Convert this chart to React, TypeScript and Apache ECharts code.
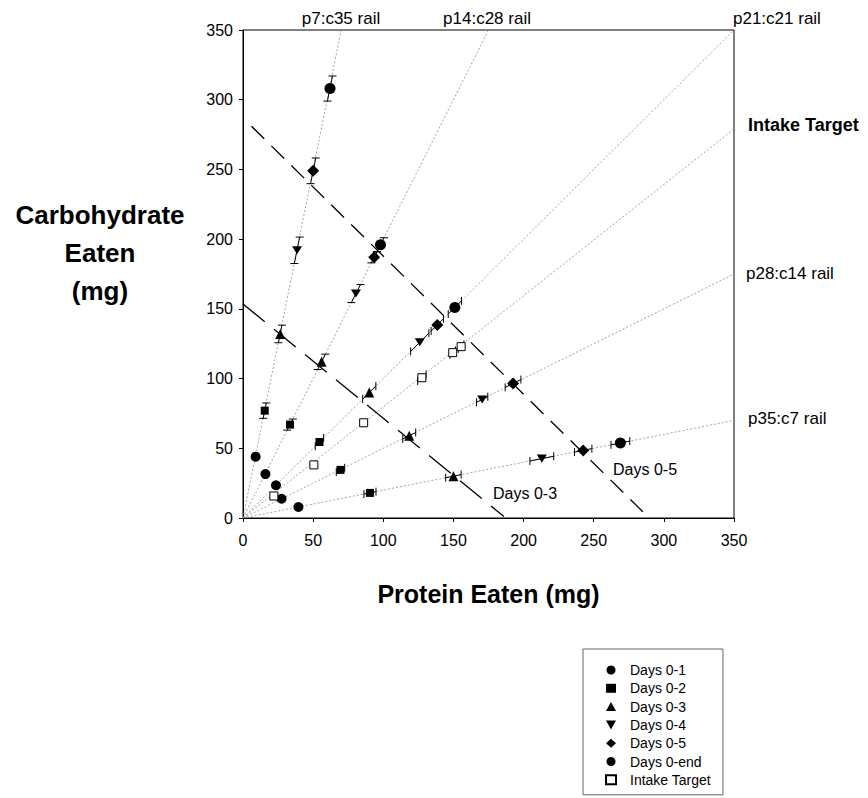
import React, { useEffect, useRef } from "react";
import * as echarts from "echarts";

// Nutrient rails: protein:carbohydrate ratio lines ending at the plot edge
const railNames = ["p7:c35 rail", "p14:c28 rail", "p21:c21 rail", "Intake Target", "p28:c14 rail", "p35:c7 rail"];
const railEnds: number[][] = [[70, 350], [175, 350], [350, 350], [350, 279], [350, 175], [350, 70]];

// Cumulative intake points [protein, carbohydrate] and error half-widths (mg)
const days01: number[][] = [[9, 44], [16, 31.5], [23.5, 23.5], [27.5, 13.8], [39.5, 7.9]];
const days01Err = [0, 0, 0, 0, 0];
const days02: number[][] = [[15.5, 77], [33.5, 67], [54.5, 54.5], [69.5, 34.5], [90.5, 18]];
const days02Err = [5.5, 4, 3, 3, 4.3];
const days03: number[][] = [[26.5, 132], [56, 112], [90, 90], [118.5, 59], [150, 30]];
const days03Err = [6.3, 5.5, 4.7, 4.6, 5.5];
const days04: number[][] = [[38.5, 192], [80.5, 161], [126, 126], [170.5, 85], [213, 42.6]];
const days04Err = [9.5, 6.5, 6.5, 4, 8.5];
const days05: number[][] = [[50, 249], [93.5, 187], [138.5, 138.5], [192.5, 96.5], [242.5, 48.5]];
const days05Err = [9.2, 4, 4.4, 5.6, 6.2];
const daysEnd: number[][] = [[62, 308], [98, 196], [151, 151], [269, 53.8]];
const daysEndErr = [9, 5, 4.7, 6.7];
const intakeTarget: number[][] = [[22, 15.8], [50.5, 38.1], [86, 68.3], [127.5, 100.6], [149.5, 118.6], [155.5, 122.9]];
const intakeTargetErr = [0, 0, 0, 3, 2, 2];

// Intake regression lines
const line03: number[][] = [[0, 153.5], [186, 1]];
const line05: number[][] = [[6, 281], [285, 4.5]];

const xTicks = { min: 0, max: 350, interval: 50 };
const yTicks = { min: 0, max: 350, interval: 50 };

const FONT = "'Liberation Sans', Arial, sans-serif";
const TRI_DOWN = "path://M0,0L10,0L5,9Z";

export default function App() {
  const ref = useRef<HTMLDivElement>(null);

  useEffect(() => {
    if (!ref.current) return;
    const chart = echarts.init(ref.current, undefined, { renderer: "svg" });

    const railSeries = railEnds.map((end, i) => ({
      type: "line",
      name: "rail " + railNames[i],
      data: [[0, 0], end],
      symbol: "none",
      silent: true,
      z: 1,
      lineStyle: { color: "#8a8a8a", width: 0.8, type: [2, 2] },
    }));

    const groups: { name: string; pts: number[][]; err: number[] }[] = [
      { name: "Days 0-1", pts: days01, err: days01Err },
      { name: "Days 0-2", pts: days02, err: days02Err },
      { name: "Days 0-3", pts: days03, err: days03Err },
      { name: "Days 0-4", pts: days04, err: days04Err },
      { name: "Days 0-5", pts: days05, err: days05Err },
      { name: "Days 0-end", pts: daysEnd, err: daysEndErr },
      { name: "Intake Target", pts: intakeTarget, err: intakeTargetErr },
    ];
    const errData: number[][] = [];
    groups.forEach((g) => g.pts.forEach((p, i) => errData.push([p[0], p[1], g.err[i]])));

    const symbols = ["circle", "rect", "triangle", TRI_DOWN, "diamond", "circle", "rect"];
    const sizes = [10, 8, 10, [10, 9], 12, 11, 8];

    const scatterSeries = groups.map((g, i) => ({
      type: "scatter",
      name: g.name,
      data: g.pts,
      symbol: symbols[i],
      symbolSize: sizes[i],
      symbolKeepAspect: true,
      z: 5,
      itemStyle:
        g.name === "Intake Target"
          ? { color: "#fff", borderColor: "#000", borderWidth: 1, opacity: 1 }
          : { color: "#000", opacity: 1 },
    }));

    const option: any = {
      animation: false,
      backgroundColor: "#fff",
      textStyle: { fontFamily: FONT },
      grid: { left: 243, top: 30, width: 491, height: 488, show: true, borderColor: "#000", borderWidth: 1, backgroundColor: "transparent" },
      xAxis: {
        type: "value",
        ...xTicks,
        name: "Protein Eaten (mg)",
        nameLocation: "middle",
        nameGap: 63,
        nameTextStyle: { fontSize: 25, fontWeight: "bold", color: "#000", fontFamily: FONT },
        axisLine: { lineStyle: { color: "#000", width: 1 } },
        axisTick: { show: true, length: 4, lineStyle: { color: "#000" } },
        axisLabel: { fontSize: 16, color: "#000", margin: 14, fontFamily: FONT },
        splitLine: { show: false },
      },
      yAxis: {
        type: "value",
        ...yTicks,
        axisLine: { show: true, lineStyle: { color: "#000", width: 1 } },
        axisTick: { show: true, length: 4, lineStyle: { color: "#000" } },
        axisLabel: { fontSize: 16, color: "#000", margin: 10, fontFamily: FONT },
        splitLine: { show: false },
      },
      legend: {
        orient: "vertical",
        left: 583,
        top: 649,
        data: groups.map((g, i) => ({ name: g.name, icon: symbols[i] })),
        itemWidth: 10,
        itemHeight: 9,
        itemGap: 4.3,
        symbolKeepAspect: true,
        padding: [14, 12, 8, 22],
        borderColor: "#666",
        borderWidth: 1,
        selectedMode: false,
        textStyle: { fontSize: 14, color: "#000", fontFamily: FONT, lineHeight: 14, padding: [0, 0, 0, 9] },
      },
      series: [
        ...railSeries,
        {
          type: "line",
          name: "Days 0-3 line",
          data: line03,
          symbol: "none",
          silent: true,
          z: 2,
          lineStyle: { color: "#000", width: 1.3, type: [28, 12] },
        },
        {
          type: "line",
          name: "Days 0-5 line",
          data: line05,
          symbol: "none",
          silent: true,
          z: 2,
          lineStyle: { color: "#000", width: 1.3, type: [18, 10] },
        },
        {
          type: "custom",
          name: "errors",
          data: errData,
          encode: { x: 0, y: 1 },
          z: 3,
          silent: true,
          renderItem: (_params: any, api: any) => {
            const P = api.value(0);
            const C = api.value(1);
            const e = api.value(2);
            if (!e) return { type: "group", children: [] };
            const steep = C > P * 1.2;
            const f = e / (steep ? C : P);
            const lo = api.coord([P * (1 - f), C * (1 - f)]);
            const hi = api.coord([P * (1 + f), C * (1 + f)]);
            const cap = 4;
            const capLine = (pt: number[]) =>
              steep
                ? { x1: pt[0] - cap, y1: pt[1], x2: pt[0] + cap, y2: pt[1] }
                : { x1: pt[0], y1: pt[1] - cap, x2: pt[0], y2: pt[1] + cap };
            const style = { stroke: "#000", lineWidth: 1 };
            return {
              type: "group",
              children: [
                { type: "line", shape: { x1: lo[0], y1: lo[1], x2: hi[0], y2: hi[1] }, style },
                { type: "line", shape: capLine(lo), style },
                { type: "line", shape: capLine(hi), style },
              ],
            };
          },
        },
        ...scatterSeries,
      ],
      graphic: [
        { type: "text", x: 100, y: 196, style: { text: "Carbohydrate\nEaten\n(mg)", font: `bold 26px ${FONT}`, fill: "#000", textAlign: "center", lineHeight: 38 } },
        { type: "text", x: 341, y: 18, style: { text: railNames[0], font: `17px ${FONT}`, fill: "#000", textAlign: "center", textVerticalAlign: "middle" } },
        { type: "text", x: 487, y: 18, style: { text: railNames[1], font: `17px ${FONT}`, fill: "#000", textAlign: "center", textVerticalAlign: "middle" } },
        { type: "text", x: 733, y: 18, style: { text: railNames[2], font: `17px ${FONT}`, fill: "#000", textAlign: "left", textVerticalAlign: "middle" } },
        { type: "text", x: 748, y: 125, style: { text: railNames[3], font: `bold 18px ${FONT}`, fill: "#000", textAlign: "left", textVerticalAlign: "middle" } },
        { type: "text", x: 746, y: 273, style: { text: railNames[4], font: `17px ${FONT}`, fill: "#000", textAlign: "left", textVerticalAlign: "middle" } },
        { type: "text", x: 748, y: 418, style: { text: railNames[5], font: `17px ${FONT}`, fill: "#000", textAlign: "left", textVerticalAlign: "middle" } },
        { type: "text", x: 493, y: 493, style: { text: "Days 0-3", font: `16px ${FONT}`, fill: "#000", textAlign: "left", textVerticalAlign: "middle" } },
        { type: "text", x: 613, y: 469, style: { text: "Days 0-5", font: `16px ${FONT}`, fill: "#000", textAlign: "left", textVerticalAlign: "middle" } },
      ],
    };

    chart.setOption(option);
    return () => chart.dispose();
  }, []);

  return <div ref={ref} style={{ position: "fixed", left: 0, top: 0, width: 868, height: 798 }} />;
}
